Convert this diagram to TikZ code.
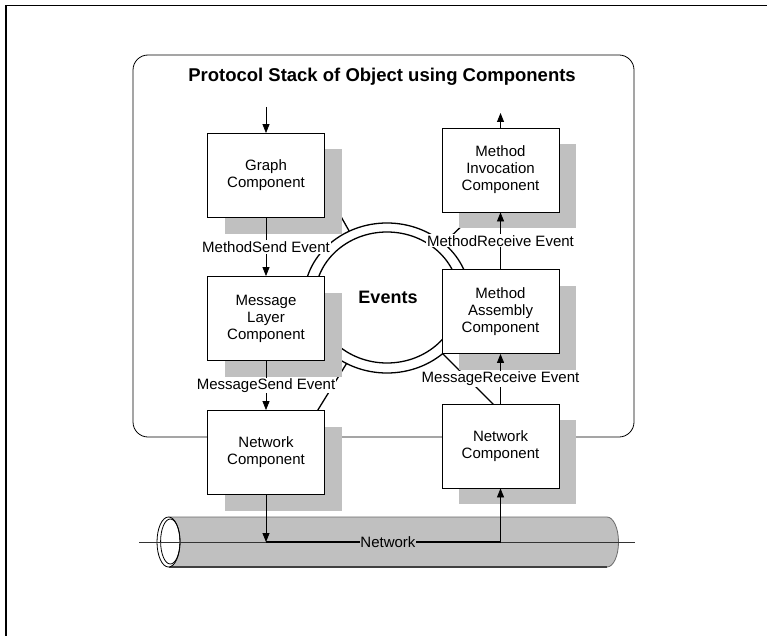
\documentclass[tikz,border=0pt]{standalone}
\usepackage{fontspec}
\setmainfont{Liberation Sans}
\usetikzlibrary{arrows.meta,shadows}
\definecolor{shadowgray}{HTML}{C0C0C0}
\definecolor{pipegray}{HTML}{C0C0C0}
\definecolor{pipeedge}{HTML}{6A6A6A}
\begin{document}
\begin{tikzpicture}[x=1pt,y=-1pt,
  comp/.style={draw,line width=0.8pt,fill=white,minimum width=117pt,minimum height=84pt,
    inner sep=0pt,align=center,font=\fontsize{15}{17}\selectfont,
    drop shadow={shadow xshift=17pt,shadow yshift=-16pt,fill=shadowgray,opacity=1}},
  evlabel/.style={fill=white,inner sep=1pt,font=\fontsize{15}{17}\selectfont},
  arr/.style={line width=0.8pt,-{Triangle[length=9pt,width=7pt]}},
  ring/.style={line width=1.3pt},
  spoke/.style={line width=1.3pt}]
\useasboundingbox (0,0) rectangle (767,636);
% page frame
\draw[line width=1.6pt] (6,636) -- (6,5.5) -- (767,5.5);

% enclosing stack
\draw[line width=0.8pt,rounded corners=15pt] (133,55) rectangle (634,437);
\node[font=\bfseries\fontsize{18.5}{20}\selectfont] (title) at (382,77) {Protocol Stack of Object using Components};

% spokes of the event ring, hidden under the components
\coordinate (ringc) at (387,298);
\coordinate (sTL) at (335,206);
\coordinate (sBL) at (316,413);
\coordinate (sBR) at (495,406);
\coordinate (sTR) at (470,218);
\foreach \s in {sTL,sBL,sBR,sTR} \draw[spoke] (ringc) -- (\s);

% event ring
\fill[white,draw=black,ring] (ringc) ellipse [x radius=83pt,y radius=75pt];
\draw[ring] (387,297.5) ellipse [x radius=72pt,y radius=65.5pt];
\node[font=\bfseries\fontsize{18}{20}\selectfont] (events) at (388,297) {Events};

% components
\node[comp] (graph) at (266,175.5) {Graph\\Component};
\node[comp] (msg)   at (266,318.5) {Message\\Layer\\Component};
\node[comp] (netl)  at (266,452.5) {Network\\Component};
\node[comp] (minv)  at (500.5,170) {Method\\Invocation\\Component};
\node[comp] (masm)  at (500.5,311.5) {Method\\Assembly\\Component};
\node[comp] (netr)  at (500.5,446) {Network\\Component};

% event flow
\coordinate (inL) at (266,107);
\coordinate (outR) at (500.5,113);
\draw[arr] (inL) -- (graph.north);
\draw[arr] (graph.south) -- node[evlabel]{MethodSend Event} (msg.north);
\draw[arr] (msg.south) -- node[evlabel]{MessageSend Event} (netl.north);
\draw[arr] (masm.north) -- node[evlabel]{MethodReceive Event} (minv.south);
\draw[arr] (netr.north) -- node[evlabel]{MessageReceive Event} (masm.south);
\draw[arr] (minv.north) -- (outR);

% network pipe
\fill[pipegray] (168.5,517) -- (607,517) arc[start angle=90,end angle=-90,x radius=11.5pt,y radius=25pt] -- (168.5,567) -- cycle;
\draw[pipeedge,line width=0.8pt] (168.5,517) -- (607,517) arc[start angle=90,end angle=-90,x radius=11.5pt,y radius=25pt];
\draw[black!75,line width=1.3pt] (168.5,567) -- (607,567);
\draw[fill=white,line width=0.8pt] (168.5,542) ellipse [x radius=11.5pt,y radius=25pt];
\draw[line width=0.8pt] (170.3,541.5) ellipse [x radius=9.7pt,y radius=22.5pt];

\coordinate (busL) at (139,542);
\coordinate (busR) at (635,542);
\draw[line width=0.6pt,black!80] (busL) -- (busR);
\coordinate (tapL) at (netl.south |- busL);
\coordinate (tapR) at (netr.south |- busL);
\draw[arr] (netl.south) -- (tapL);
\draw[line width=1.2pt] (tapL) -- node[pos=0.52,fill=pipegray,inner sep=0.5pt,font=\fontsize{15}{17}\selectfont]{Network} (tapR);
\draw[arr] (tapR) -- (netr.south);
\end{tikzpicture}
\end{document}
